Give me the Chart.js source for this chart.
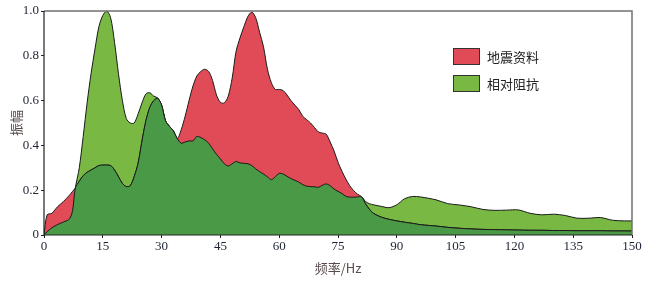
<!DOCTYPE html>
<html>
<head>
<meta charset="utf-8">
<script src="https://cdn.jsdelivr.net/npm/chart.js@4/dist/chart.umd.min.js"></script>
<style>
  html, body { margin: 0; padding: 0; background: #fff; }
  #wrap { position: relative; width: 650px; height: 281px; }
  canvas { display: block; }
  .lg { position: absolute; left: 453px; display: flex; align-items: center; font: 13px "Noto Sans CJK SC", sans-serif; color: #222; }
  .lg span.box { display: inline-block; width: 25px; height: 15px; border: 1px solid #333; margin-right: 7px; }
</style>
</head>
<body>
<div id="wrap">
  <canvas id="c" width="650" height="281"></canvas>
  <div class="lg" style="top:47px"><span class="box" style="background:#e04b57"></span>地震资料</div>
  <div class="lg" style="top:74px"><span class="box" style="background:#78b843"></span>相对阻抗</div>
</div>
<script>
const freqs = [0,0.8,2,3.5,5,6.5,7.3,8,9,10,11,12,13,14,15,16,17,18,19,20,21,22,23,24,25,26,27,28,29,30,31,32,33,34,35,36,37,38,39,40,41,42,43,44,45,46,47,48,49,50,51,52,53,54,55,56,57,58,59,60,61,62,63,64,65,66,67,68,69,70,71,72,73,74,75,76,77,78,79,80,81,82,83,84,86,88,90,92,94,96,100,103,106,109,112,115,118,121,124,127,130,133,136,139,142,145,148,150];
const impedance = [0,0.015,0.032,0.047,0.058,0.072,0.11,0.21,0.30,0.44,0.59,0.72,0.83,0.93,0.98,1.0,0.97,0.86,0.72,0.60,0.52,0.50,0.50,0.54,0.59,0.63,0.635,0.62,0.612,0.58,0.51,0.485,0.465,0.43,0.41,0.415,0.42,0.42,0.44,0.435,0.425,0.41,0.385,0.36,0.34,0.318,0.308,0.318,0.328,0.322,0.32,0.318,0.31,0.295,0.283,0.272,0.26,0.247,0.26,0.275,0.272,0.262,0.252,0.244,0.236,0.225,0.218,0.216,0.215,0.213,0.222,0.228,0.22,0.205,0.195,0.185,0.173,0.169,0.169,0.17,0.171,0.15,0.14,0.135,0.128,0.122,0.135,0.162,0.172,0.17,0.157,0.14,0.134,0.126,0.114,0.11,0.111,0.112,0.097,0.09,0.093,0.087,0.075,0.075,0.078,0.066,0.063,0.063];
const seismic = [0,0.09,0.097,0.127,0.15,0.178,0.195,0.21,0.24,0.265,0.28,0.29,0.30,0.31,0.312,0.312,0.31,0.29,0.26,0.23,0.216,0.22,0.26,0.32,0.42,0.51,0.57,0.60,0.61,0.58,0.51,0.485,0.465,0.43,0.47,0.53,0.60,0.665,0.71,0.73,0.74,0.73,0.69,0.625,0.592,0.59,0.62,0.70,0.82,0.88,0.93,0.975,0.995,0.97,0.905,0.84,0.74,0.68,0.65,0.65,0.645,0.625,0.60,0.58,0.56,0.53,0.515,0.50,0.48,0.46,0.455,0.45,0.415,0.375,0.325,0.285,0.25,0.22,0.198,0.182,0.171,0.14,0.115,0.097,0.08,0.07,0.063,0.057,0.052,0.046,0.04,0.034,0.03,0.027,0.025,0.024,0.023,0.022,0.021,0.021,0.02,0.02,0.019,0.019,0.019,0.018,0.018,0.018];
const seriesNames = ['地震资料', '相对阻抗'];
const xTitle = '频率/Hz';
const yTitle = '振幅';

const toPts = arr => freqs.map((f, i) => ({ x: f, y: arr[i] }));
const overlap = freqs.map((f, i) => ({ x: f, y: Math.min(seismic[i], impedance[i]) }));

const frame = {
  id: 'frame',
  afterDatasetsDraw(chart) {
    const { ctx, chartArea: a } = chart;
    ctx.save();
    ctx.strokeStyle = '#707070';
    ctx.lineWidth = 1.5;
    ctx.beginPath();
    ctx.moveTo(a.left, a.top); ctx.lineTo(a.right, a.top); ctx.lineTo(a.right, a.bottom);
    ctx.stroke();
    ctx.strokeStyle = '#222';
    ctx.lineWidth = 1.2;
    ctx.beginPath();
    ctx.moveTo(a.left, a.top); ctx.lineTo(a.left, a.bottom); ctx.lineTo(a.right, a.bottom);
    ctx.stroke();
    ctx.restore();
  }
};

const common = { pointRadius: 0, borderWidth: 1, borderColor: '#1a1a1a', tension: 0.3, fill: 'origin' };
const tickGrid = { display: true, drawOnChartArea: false, drawTicks: true, tickLength: 3, color: '#222', lineWidth: 1 };

new Chart(document.getElementById('c'), {
  type: 'line',
  data: {
    datasets: [
      Object.assign({ label: 'overlap', data: overlap, backgroundColor: '#4a9946' }, common),
      Object.assign({ label: seriesNames[0], data: toPts(seismic), backgroundColor: '#e04b57' }, common),
      Object.assign({ label: seriesNames[1], data: toPts(impedance), backgroundColor: '#78b843' }, common)
    ]
  },
  options: {
    responsive: false,
    animation: false,
    layout: { padding: { top: 11, right: 18, left: 0, bottom: 0 } },
    plugins: { legend: { display: false }, tooltip: { enabled: false } },
    scales: {
      x: {
        type: 'linear', min: 0, max: 150,
        afterFit(s) { s.height = 46; },
        grid: tickGrid,
        border: { display: false },
        ticks: { stepSize: 15, color: '#1c2333', font: { family: 'Liberation Serif', size: 13 }, padding: 1, maxRotation: 0 },
        title: { display: true, text: xTitle, color: '#5a4c4c', font: { family: 'Noto Sans CJK SC, Liberation Serif', size: 13 }, padding: { top: 0, bottom: 5 } }
      },
      y: {
        min: 0, max: 1,
        afterFit(s) { s.width = 44; },
        grid: tickGrid,
        border: { display: false },
        ticks: { stepSize: 0.2, color: '#1c2333', font: { family: 'Liberation Serif', size: 13 }, padding: 2,
          callback: v => v === 0 ? '0' : v.toFixed(1) },
        title: { display: true, text: yTitle, color: '#5a4c4c', font: { family: 'Noto Sans CJK SC', size: 13 }, padding: { top: 8, bottom: 0 } }
      }
    }
  },
  plugins: [frame]
});
</script>
</body>
</html>
